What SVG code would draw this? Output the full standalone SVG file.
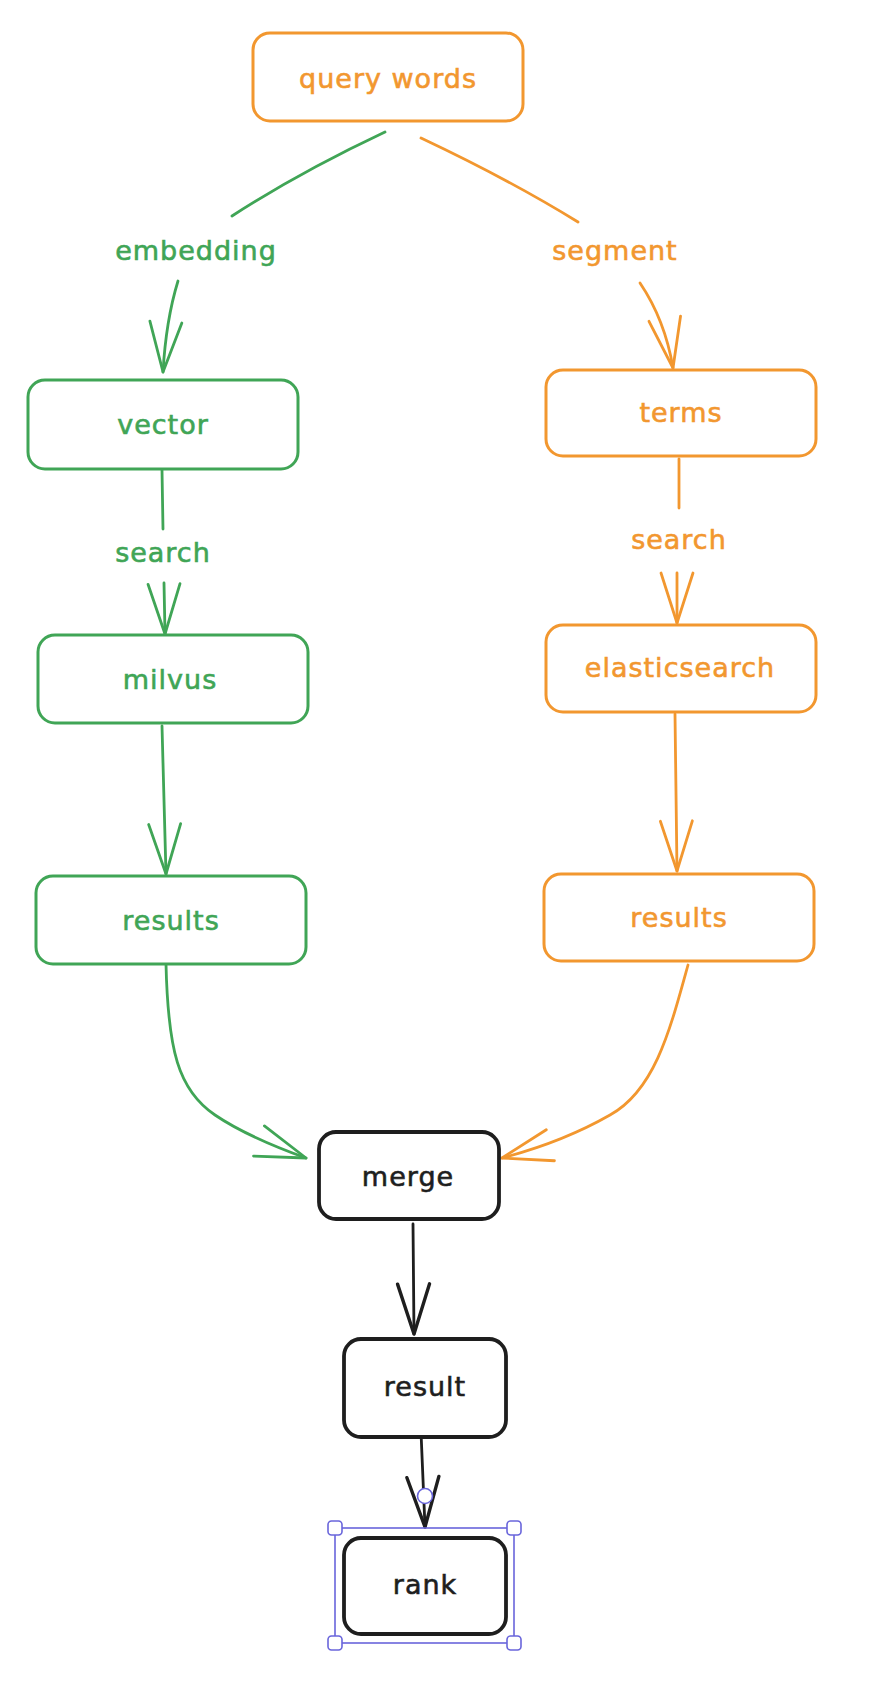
<svg xmlns="http://www.w3.org/2000/svg" width="872" height="1694" viewBox="0 0 872 1694">
<style>
  .box { fill: #ffffff; stroke-width: 3; }
  .g { stroke: #40a556; }
  .o { stroke: #f2972f; }
  .k { stroke: #1e1e1e; stroke-width: 3.8; }
  .edge { fill: none; stroke-width: 2.8; stroke-linecap: round; }
  text { font-family: "DejaVu Sans", "Liberation Sans", sans-serif; font-size: 27px; text-anchor: middle; dominant-baseline: central; letter-spacing: 1px; stroke-width: 0.6px; }
  .tg { fill: #40a556; stroke: #40a556; }
  .to { fill: #f2972f; stroke: #f2972f; }
  .tk { fill: #1e1e1e; stroke: #1e1e1e; }
  .sel { fill: none; stroke: #6965db; stroke-width: 1.6; }
  .handle { fill: #ffffff; stroke: #6965db; stroke-width: 1.6; }
</style>
<defs>
  <marker id="ag" markerUnits="userSpaceOnUse" viewBox="-54 -20 58 40" refX="0" refY="0" markerWidth="58" markerHeight="40" orient="auto" overflow="visible">
    <path d="M-50,-16 L0,0 L-50,16" fill="none" stroke="#40a556" stroke-width="2.8" stroke-linecap="round" stroke-linejoin="round"/>
  </marker>
  <marker id="ao" markerUnits="userSpaceOnUse" viewBox="-54 -20 58 40" refX="0" refY="0" markerWidth="58" markerHeight="40" orient="auto" overflow="visible">
    <path d="M-50,-16 L0,0 L-50,16" fill="none" stroke="#f2972f" stroke-width="2.8" stroke-linecap="round" stroke-linejoin="round"/>
  </marker>
  <marker id="ak" markerUnits="userSpaceOnUse" viewBox="-54 -20 58 40" refX="0" refY="0" markerWidth="58" markerHeight="40" orient="auto" overflow="visible">
    <path d="M-50,-16 L0,0 L-50,16" fill="none" stroke="#1e1e1e" stroke-width="3.4" stroke-linecap="round" stroke-linejoin="round"/>
  </marker>
</defs>
<rect width="872" height="1694" fill="#ffffff"/>

<g id="connectors">
  <path class="edge g" d="M385,132 Q300,172 232,216"/>
  <text class="tg" x="196" y="250">embedding</text>
  <path class="edge g" d="M178,281 Q166,320 163,372" marker-end="url(#ag)"/>

  <path class="edge o" d="M421,138 Q510,180 578,222"/>
  <text class="to" x="615" y="250">segment</text>
  <path class="edge o" d="M640,283 Q665,320 673,368" marker-end="url(#ao)"/>

  <path class="edge g" d="M162,470 L163,529"/>
  <text class="tg" x="163" y="552">search</text>
  <path class="edge g" d="M164,583 L165,634" marker-end="url(#ag)"/>

  <path class="edge o" d="M679,459 L679,508"/>
  <text class="to" x="679" y="539">search</text>
  <path class="edge o" d="M677,573 L677,623" marker-end="url(#ao)"/>

  <path class="edge g" d="M162,726 L166,874" marker-end="url(#ag)"/>
  <path class="edge o" d="M675,714 L677,871" marker-end="url(#ao)"/>

  <path class="edge g" d="M166,964 C168,1050 178,1090 215,1115 C240,1132 270,1145 306,1158" marker-end="url(#ag)"/>
  <path class="edge o" d="M688,965 C670,1030 655,1090 610,1115 C575,1135 540,1148 502,1158" marker-end="url(#ao)"/>

  <path class="edge k" d="M413,1224 L414,1334" marker-end="url(#ak)"/>
  <path class="edge k" d="M421,1432 L425,1527" marker-end="url(#ak)"/>
</g>

<g id="node-query-words">
  <rect class="box o" x="253" y="33" width="270" height="88" rx="17"/>
  <text class="to" x="388" y="78">query words</text>
</g>
<g id="node-vector">
  <rect class="box g" x="28" y="380" width="270" height="89" rx="17"/>
  <text class="tg" x="163" y="424">vector</text>
</g>
<g id="node-terms">
  <rect class="box o" x="546" y="370" width="270" height="86" rx="17"/>
  <text class="to" x="681" y="412">terms</text>
</g>
<g id="node-milvus">
  <rect class="box g" x="38" y="635" width="270" height="88" rx="17"/>
  <text class="tg" x="170" y="679">milvus</text>
</g>
<g id="node-elasticsearch">
  <rect class="box o" x="546" y="625" width="270" height="87" rx="17"/>
  <text class="to" x="680" y="667">elasticsearch</text>
</g>
<g id="node-results-green">
  <rect class="box g" x="36" y="876" width="270" height="88" rx="17"/>
  <text class="tg" x="171" y="920">results</text>
</g>
<g id="node-results-orange">
  <rect class="box o" x="544" y="874" width="270" height="87" rx="17"/>
  <text class="to" x="679" y="917">results</text>
</g>
<g id="node-merge">
  <rect class="box k" x="319" y="1132" width="180" height="87" rx="17"/>
  <text class="tk" x="408" y="1176">merge</text>
</g>
<g id="node-result">
  <rect class="box k" x="344" y="1339" width="162" height="98" rx="17"/>
  <text class="tk" x="425" y="1386">result</text>
</g>
<g id="node-rank">
  <rect class="box k" x="344" y="1538" width="162" height="96" rx="17"/>
  <text class="tk" x="425" y="1584">rank</text>
</g>

<g id="selection">
  <rect class="sel" x="335" y="1528" width="179" height="115"/>
  <rect class="handle" x="328" y="1521" width="14" height="14" rx="3.5"/>
  <rect class="handle" x="507" y="1521" width="14" height="14" rx="3.5"/>
  <rect class="handle" x="328" y="1636" width="14" height="14" rx="3.5"/>
  <rect class="handle" x="507" y="1636" width="14" height="14" rx="3.5"/>
  <circle class="handle" cx="425" cy="1496" r="7.5"/>
</g>
</svg>
